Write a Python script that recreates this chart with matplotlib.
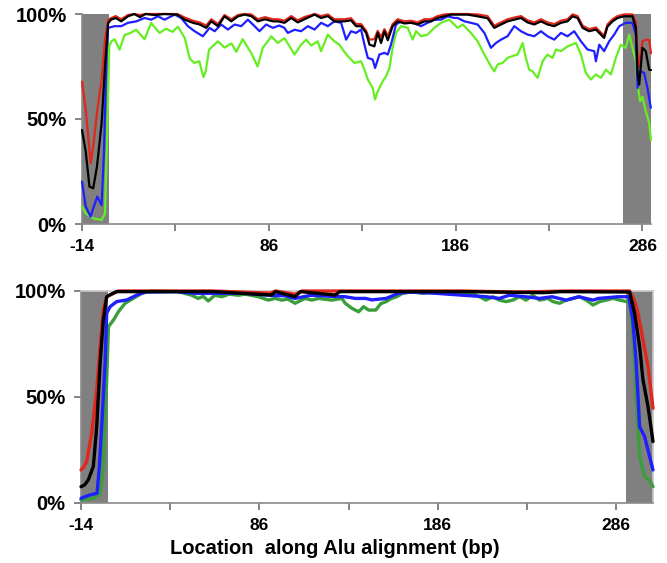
import matplotlib
matplotlib.use("Agg")
import matplotlib.pyplot as plt

plt.rcParams['font.family'] = ['Liberation Sans', 'DejaVu Sans']

# ---------------- data (x in bp, value in %) ----------------
top_red = [(-14, 67.8), (-12, 54.3), (-10.5, 40), (-9.4, 28.9), (-8, 36.9), (-5.8, 54.3), (-3.5, 68.6),
           (-1.7, 87.7), (0, 97.2), (1.5, 98), (4, 99), (7, 97.5), (10.6, 99.5), (14, 100), (17, 99.5),
           (20, 100), (25, 100), (30, 100), (37, 100), (41, 98.3), (45.4, 96.8), (49, 96), (52.5, 94.5),
           (55.2, 97.5), (58.8, 95.2), (62.3, 99.5), (65.9, 97.5), (69.5, 99.5), (73, 100), (76.6, 99.8),
           (80.2, 97.5), (84, 98.5), (88.2, 97.5), (91, 97.5), (94.4, 96.8), (98, 99), (101.5, 97),
           (105, 98.5), (110.5, 100), (114, 99), (117.6, 99.8), (121.1, 97.5), (126.5, 97.5), (130, 98),
           (132.7, 95.2), (135.4, 95.2), (138.1, 92), (139.9, 87.8), (142.5, 88), (144.3, 92), (146.1, 89),
           (147.9, 92.8), (149.7, 89.5), (152.3, 95.2), (155, 97.5), (158.6, 96.5), (162.1, 96.8),
           (165.7, 96), (169.2, 97.5), (172.8, 97.5), (176.4, 99), (179.9, 99.8), (183.5, 100),
           (187.1, 100), (192.4, 100), (197.8, 99.8), (203.1, 99), (206.7, 94.4), (210.3, 96),
           (213.8, 97.5), (217.4, 98.3), (221, 99), (224.5, 97), (228.1, 96), (231.7, 97.5), (235.2, 96),
           (238.8, 95.2), (242.4, 96.8), (245.9, 97.5), (248.6, 99.8), (251.3, 99), (254, 94.4),
           (257.5, 92.8), (261.1, 93.6), (265.5, 89.6), (267.3, 95), (270, 97.5), (272.7, 99),
           (276.2, 99.8), (280.7, 99.8), (282.5, 96), (283.4, 80), (284.3, 75), (286, 87), (288, 87.8),
           (289.6, 87.6), (290.6, 81.3)]

top_black = [(-14, 44.8), (-12, 34.5), (-10, 17.8), (-8, 17), (-6, 27.3), (-3.5, 48), (-1.7, 75),
             (0, 95.6), (1.5, 97.3), (4, 98.1), (7, 96.5), (10.6, 98.9), (14, 100), (17, 98.5), (20, 100),
             (25, 99.5), (30, 100), (37, 99.7), (41, 97.3), (45.4, 95.8), (49, 95), (52.5, 93.4),
             (55.2, 96.5), (58.8, 94.2), (62.3, 98.9), (65.9, 96.5), (69.5, 98.9), (73, 99.7), (76.6, 99),
             (80.2, 96.5), (84, 97.5), (88.2, 96.5), (91, 96.5), (94.4, 95.8), (98, 98.1), (101.5, 96),
             (105, 97.5), (110.5, 99.7), (114, 98.1), (117.6, 99), (121.1, 96.5), (126.5, 96.5), (130, 97),
             (132.7, 94.2), (135.4, 94.2), (138.1, 91), (139.9, 85.4), (142.5, 84.6), (144.3, 91),
             (146.1, 86.2), (147.9, 91.8), (149.7, 87.5), (152.3, 94.2), (155, 96.5), (158.6, 95.5),
             (162.1, 95.8), (165.7, 95), (169.2, 96.5), (172.8, 96.5), (176.4, 98.1), (179.9, 98.9),
             (183.5, 99.7), (187.1, 99.7), (192.4, 99.7), (197.8, 98.9), (203.1, 98), (206.7, 93.4),
             (210.3, 95), (213.8, 96.5), (217.4, 97.3), (221, 98.1), (224.5, 96), (228.1, 95),
             (231.7, 96.5), (235.2, 95), (238.8, 94.2), (242.4, 95.8), (245.9, 96.5), (248.6, 98.9),
             (251.3, 98.1), (254, 93.4), (257.5, 91.8), (261.1, 92.6), (265.5, 88.6), (267.3, 94),
             (270, 96.5), (272.7, 98.1), (276.2, 98.9), (280.7, 98.9), (282.5, 93.4), (283.4, 72),
             (284.3, 66.4), (286, 83.9), (287.8, 82.3), (289.6, 73.5), (290.6, 73.3)]

top_blue = [(-14, 20.2), (-12, 8.3), (-9.4, 3.5), (-8, 7.5), (-5.8, 13), (-3.5, 9), (-2.2, 35.3),
            (-0.8, 82.9), (0, 93.4), (3.5, 94.2), (7, 94.2), (10.6, 95.8), (15.1, 96.5), (19.5, 98.1),
            (23, 97.3), (26.7, 98.9), (30.2, 97.3), (35.6, 99.7), (39.1, 98.1), (42.7, 94.2), (46.3, 91.8),
            (50.7, 89.4), (54.3, 93.4), (57, 91.8), (60.5, 95), (64.1, 92.6), (67.7, 95), (71.2, 94.2),
            (74.8, 97.3), (78.4, 94.2), (81, 91.8), (84.6, 95), (88.2, 93.4), (91.5, 94.5), (94.2, 93.5),
            (96.2, 91), (99.8, 92.5), (103.3, 91.8), (106.9, 94.2), (110.5, 92.6), (114, 95.8),
            (117.6, 94.2), (121.1, 96.5), (124.7, 95.8), (127.4, 87.8), (130, 91.8), (132.7, 91),
            (135.4, 92.6), (137.2, 85.4), (139, 79.1), (141.6, 78.3), (142.9, 74.3), (145.2, 80.7),
            (147.9, 81.5), (149.7, 80.7), (151.4, 85.4), (154.1, 95), (156.8, 96.5), (160.4, 95.8),
            (163.9, 95.8), (167.5, 94.2), (171, 95.8), (174.6, 97.3), (178.2, 97.3), (181.8, 98.9),
            (185.3, 98.1), (187.1, 98.1), (190.7, 96.5), (194.2, 95.8), (197.8, 95), (201.4, 91),
            (204.9, 83.9), (207.6, 86.2), (210.3, 87.8), (213.8, 89.4), (217.4, 94.2), (221, 91.8),
            (224.5, 90.2), (228.1, 89.4), (231.7, 91.8), (235.2, 89.4), (238.8, 87.8), (242.4, 91),
            (245.9, 89.4), (249.5, 91.8), (253.1, 87), (256.6, 83.1), (260.2, 82.3), (261.1, 77.5),
            (262.9, 85.4), (265.5, 82.3), (268.2, 87), (270.9, 90.2), (273.6, 94.2), (277.1, 95.8),
            (280.7, 95.8), (282.5, 90.2), (283.4, 64.8), (284.8, 72.7), (286.9, 72), (288.7, 64.8),
            (290.5, 55.3)]

top_green = [(-14, 8.3), (-12, 5.1), (-8, 2.7), (-3.5, 1.9), (-1.7, 5.1), (-0.5, 43.2), (0.6, 84.5),
             (1.7, 87), (3.5, 88), (6.1, 83), (8.8, 90), (12, 91), (15, 92.5), (19.5, 88), (23, 95.7),
             (27.5, 91), (31, 93), (34.5, 91.5), (37.3, 94), (41, 88.6), (43.6, 79), (46, 76.7),
             (48.8, 77.5), (51, 70), (52.2, 72.5), (54, 83), (58.7, 87), (62.3, 84), (66, 86), (68.6, 82),
             (72, 88), (76.6, 81.4), (80, 75), (82.8, 84), (85.5, 87), (87.3, 89.4), (90.8, 86.2),
             (94.4, 88.5), (99.8, 80.7), (103.3, 85.4), (106, 87.8), (108.7, 85), (112.2, 87), (114, 82.3),
             (117.6, 90.2), (121.1, 87), (123.8, 85.4), (125.6, 83), (128.3, 79.9), (131.8, 76.7),
             (135.4, 77.5), (137.2, 73.5), (139, 68.8), (141.6, 64.8), (142.9, 59.3), (144.3, 63.2),
             (147, 68), (148.8, 70.4), (150.6, 74.3), (152.3, 83.9), (154.1, 91), (156.8, 94.2),
             (160.4, 93.4), (163, 87.8), (164.8, 91.8), (167.5, 89.4), (171, 90.2), (174.6, 93.4),
             (178.2, 95.8), (182.6, 97.3), (187.1, 93.4), (189.8, 95), (190.7, 94.2), (194.2, 91),
             (197.8, 87), (201.4, 80.7), (204.9, 75.1), (206.7, 72.7), (208.5, 76), (211.2, 76.7),
             (213.8, 79.1), (216.5, 80), (219.2, 80.7), (221.9, 86.2), (223.6, 79.1), (225.4, 73.5),
             (227.2, 72.7), (229.9, 69.6), (232.6, 77.5), (235.2, 80.7), (237.9, 79.1), (239.7, 83.1),
             (242.4, 82.3), (245.9, 84.6), (250.4, 86.2), (253.1, 80.7), (255.7, 72), (258.4, 68.8),
             (261.1, 71.2), (263.8, 69.6), (266.5, 73.5), (269.1, 71.2), (271.8, 79.1), (274.4, 85.4),
             (277.1, 83.9), (278.9, 90.2), (280.7, 83.9), (282.5, 77.5), (283.4, 66.4), (284.8, 58.5),
             (286, 60.6), (287.8, 53.7), (289.6, 48.1), (290.6, 40)]

bot_red = [(-14, 15.6), (-12.5, 17), (-10.8, 19.5), (-8, 32.9), (-5.2, 53.3), (-3.3, 73.8), (-1.5, 91),
           (0.4, 97.3), (4, 98.9), (7, 100), (60, 100), (92, 99), (95, 100), (106, 98.5), (110, 100),
           (170, 100), (200, 100), (230, 99.5), (260, 100), (293.5, 100), (296, 96), (298.2, 89.5),
           (301, 76.9), (303.8, 64.3), (306.6, 44.7)]

bot_black = [(-14, 7.7), (-12, 8.5), (-9.9, 10.9), (-7.1, 17.2), (-5.2, 36), (-3.3, 65.9), (-1.5, 86.3),
             (0.4, 97.3), (3, 98.5), (6, 99.7), (60, 99.7), (92.9, 98.1), (95, 99.7), (106, 97.3),
             (109, 99.7), (128.5, 98.1), (131, 99.7), (200, 99.7), (245, 99.2), (255, 99.7),
             (293.5, 99.5), (296.3, 89.5), (299.1, 73.8), (301, 58), (303.8, 45.5), (306.6, 29)]

bot_blue = [(-14, 2.2), (-9, 3.8), (-5, 4.6), (-3.7, 17.2), (-2.4, 36), (-0.5, 65.9), (0.4, 89.5),
            (2.3, 92.6), (6, 95), (11.7, 95.8), (17.3, 98.1), (22, 99.5), (40, 99.7), (50, 98.9),
            (78, 98.9), (88, 98.2), (95, 97.8), (100, 97.8), (106, 96.5), (115, 98), (126, 97.5),
            (134, 97.3), (139.7, 96.5), (145.6, 96.5), (149, 95.8), (157, 96.5), (164, 98.9), (170, 99.5),
            (185, 98.9), (200, 98), (213, 97.3), (220.5, 96.5), (226, 98), (235, 97.3), (243, 96.5),
            (250, 97.3), (258, 95.7), (265, 97.3), (273, 95.7), (276, 96.5), (287, 97.3), (293, 97.3),
            (295.3, 86.3), (297.2, 65.9), (299.1, 36), (301.9, 31.3), (304.7, 21.9), (306.6, 15.6)]

bot_green = [(-14, 1.4), (-7.1, 2.2), (-3.3, 4.6), (-1.5, 17.2), (0.4, 58), (1.4, 83.2), (4.2, 86.3),
             (7, 90.3), (10.7, 94.2), (15.4, 96.6), (20.1, 98.9), (25, 100), (40.5, 99.7), (48, 98),
             (51.7, 96.5), (54.5, 97.5), (57.3, 95.3), (61, 98), (65, 97.3), (69, 98.5), (74.2, 98),
             (78, 98.5), (85.4, 97.3), (91, 95.7), (94.7, 96.5), (98.5, 95.7), (102, 96.2), (106, 94.2),
             (111.6, 96.5), (115.4, 95.7), (119, 96.5), (126.6, 95.7), (132.2, 96.5), (134.1, 94.2),
             (137.9, 91.8), (141.6, 90.2), (144.4, 92.6), (147.2, 91), (151.2, 91), (154, 94), (157, 95),
             (160, 96.5), (163, 97.3), (166.2, 98.9), (172, 99.7), (177.5, 98.9), (183, 99.7),
             (192, 99.7), (199.9, 98.4), (205, 98.9), (209.3, 97.3), (213, 95.7), (216.8, 97.3),
             (220.5, 95.7), (224.3, 95), (228, 95.7), (231.8, 97.3), (235.5, 95.7), (239.2, 98),
             (243, 95.7), (247.7, 96.5), (250.5, 95), (254.2, 94.2), (258, 95.7), (261.8, 96.5),
             (265.5, 97.3), (269.2, 95.7), (273, 93.4), (276.7, 95), (280.4, 95.7), (284.2, 96.5),
             (287.9, 95.7), (291.7, 95), (293.5, 95), (295.3, 81.6), (297.2, 50.2), (299.1, 21.9),
             (301.9, 12.4), (304.7, 10.9), (306.6, 7.7)]

x_ticks = [-14, 36, 86, 136, 186, 236, 286]
x_tick_labels = ['-14', '', '86', '', '186', '', '286']
y_ticks = [0, 50, 100]
y_tick_labels = ['0%', '50%', '100%']
x_label = 'Location  along Alu alignment (bp)'

top_xlim = (-14, 290.6)
bot_xlim = (-14, 306.6)
top_shade = [(-14, 0.2), (275.5, 290.6)]
bot_shade = [(-14, 1.2), (291.6, 306.6)]

# ---------------- drawing ----------------
W, H = 667, 563
fig = plt.figure(figsize=(W / 100, H / 100), dpi=100)
ax_top = fig.add_axes([82 / W, 1 - 224 / H, 569 / W, 210 / H])
ax_bot = fig.add_axes([81 / W, 1 - 503 / H, 572 / W, 212 / H])

SHADE = '#808080'
RED, BLACK, BLUE = '#e3261b', '#000000', '#1f1fff'


def draw(ax, series, xlim, shades, lw, frame):
    for a, b in shades:
        ax.axvspan(a, b, color=SHADE, lw=0, zorder=0)
    for data, col in series:
        xs = [p[0] for p in data]
        ys = [p[1] for p in data]
        ax.plot(xs, ys, color=col, lw=lw, clip_on=False, zorder=3,
                solid_joinstyle='round', solid_capstyle='round')
    ax.set_xlim(*xlim)
    ax.set_ylim(0, 100)
    ax.set_xticks(x_ticks)
    ax.set_xticklabels(x_tick_labels, fontsize=12.5, fontweight='bold')
    ax.set_yticks(y_ticks)
    ax.set_yticklabels(y_tick_labels, fontsize=14.5, fontweight='bold')
    ax.tick_params(axis='both', direction='out', length=5, width=1.2, color='#707070')
    ax.tick_params(axis='x', pad=6)
    ax.tick_params(axis='y', pad=6)
    for name, sp in ax.spines.items():
        sp.set_color('#8a8a8a')
        sp.set_linewidth(1.2)
    if frame:
        ax.spines['top'].set_color('#c8c8c8')
        ax.spines['right'].set_color('#c8c8c8')
    else:
        ax.spines['top'].set_visible(False)
        ax.spines['right'].set_visible(False)
    ax.set_facecolor('white')


draw(ax_top, [(top_green, '#66ee22'), (top_blue, BLUE), (top_red, RED), (top_black, BLACK)],
     top_xlim, top_shade, 1.6, False)
draw(ax_bot, [(bot_green, '#3a9e3a'), (bot_blue, BLUE), (bot_red, RED), (bot_black, BLACK)],
     bot_xlim, bot_shade, 2.4, True)

fig.text(335 / W, 1 - 549 / H, x_label, ha='center', va='center',
         fontsize=14.5, fontweight='bold')

fig.savefig('out.png', dpi=100)
